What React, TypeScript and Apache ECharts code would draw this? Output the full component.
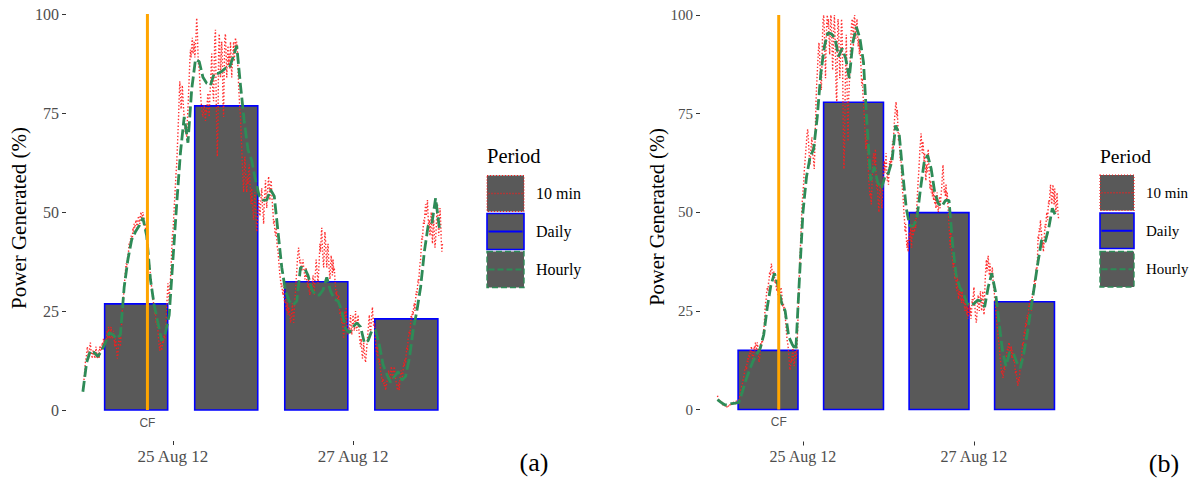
import React, { useEffect, useRef } from "react";
import * as echarts from "echarts";

// Time is measured in hours since 24 Aug 2012 00:00.
const tickHours = [24, 72];
const tickLabels = ["25 Aug 12", "27 Aug 12"];
const yTickStep = 25;

// Daily bars: centre time of each bar and its mean output (%).
const dailyHours = [14.2, 38.2, 62.2, 86.2];
const dailyA = [26.8, 76.8, 32.4, 23.0];
const dailyB = [15.0, 77.9, 49.9, 27.3];

// Time of the CF marker.
const cfHour = 17.2;
const cfLabel = "CF";

// Hourly output (%), one value per hour from 24 Aug 00:00.
const hourlyA = [
  4.6, 12, 15, 14.5, 13.5, 15, 17, 19.5, 19, 18,
  19, 31, 38, 43, 45, 46.5, 48.5, 44, 33, 26.5,
  22, 17.5, 19.5, 24, 38, 52, 65, 74, 67.5, 81,
  88.5, 88, 84, 82.5, 82, 85, 85, 85.5, 86.3, 86.3,
  89, 92, 82, 73, 65.7, 63, 58, 54, 53, 53,
  55.6, 54, 45, 36, 30, 27.5, 26.5, 27.5, 36, 36,
  34, 30.5, 29, 29, 30.3, 33.5, 30, 28, 27.5, 25,
  20.5, 19.5, 21, 22, 21, 17, 17.5, 20, 20.2, 16.5,
  11.5, 9, 7, 8.4, 9.7, 7.5, 8.5, 13, 20, 25,
  31, 40, 46.5, 47, 53.5, 46,
];
const hourlyB = [
  2.5, 1.8, 1.2, 1.1, 1.5, 1.6, 1.8, 4.5, 7.5, 10,
  12.3, 14, 15.5, 19, 26, 31.5, 34.5, 31.5, 27, 25,
  18.5, 16.5, 15.1, 33, 50, 59, 64, 66, 74, 85,
  92, 95.5, 95.2, 94, 89.5, 91.5, 89, 84, 93, 97,
  94, 88, 72, 58, 61.5, 57.5, 56, 59, 60, 63,
  72, 70, 60, 51, 46.5, 46.5, 48.5, 56, 62.5, 64.5,
  61, 55, 52.2, 51.5, 53, 53, 42, 34, 31, 29.5,
  27, 26.3, 26.8, 27.7, 27.5, 26, 31, 34.5, 30, 22.5,
  15, 11, 14.5, 14.5, 12, 10.5, 14.2, 19.5, 25.5, 31.5,
  37.5, 43, 42.5, 46, 51, 49,
];

// 10-minute output (%), six values per hour (one row per hour).
const tenMinA = [
  5, 6, 8, 10, 12, 13,
  14, 16, 15, 13, 14, 16,
  17, 15, 14, 13, 15, 14,
  15, 13, 14, 16, 14, 13,
  14, 15, 13, 16, 15, 16,
  15, 17, 16, 18, 17, 18,
  18, 17, 19, 20, 18, 21,
  20, 18, 19, 21, 19, 18,
  19, 20, 18, 16, 18, 17,
  15, 13, 14, 17, 19, 18,
  16, 19, 22, 25, 27, 29,
  31, 33, 35, 37, 36, 38,
  39, 40, 42, 41, 43, 44,
  44, 43, 46, 45, 47, 46,
  46, 48, 47, 46, 48, 49,
  48, 47, 49, 50, 48, 49,
  50, 49, 48, 47, 46, 45,
  44, 42, 40, 38, 37, 36,
  34, 32, 31, 29, 28, 27,
  26, 24, 25, 22, 23, 21,
  20, 18, 16, 15, 17, 16,
  15, 16, 18, 17, 19, 18,
  20, 22, 26, 29, 32, 30,
  27, 31, 33, 36, 40, 44,
  45, 48, 51, 54, 57, 60,
  62, 66, 70, 74, 79, 83,
  80, 76, 78, 82, 79, 76,
  74, 71, 70, 72, 69, 73,
  76, 80, 84, 88, 91, 89,
  92, 94, 90, 91, 93, 89,
  91, 95, 99, 96, 90, 87,
  86, 83, 80, 78, 76, 75,
  74, 76, 77, 75, 73, 76,
  75, 78, 80, 76, 74, 79,
  82, 86, 90, 84, 80, 78,
  88, 94, 96, 80, 70, 64,
  72, 90, 95, 92, 84, 88,
  93, 89, 78, 74, 86, 94,
  95, 90, 84, 88, 92, 87,
  90, 86, 93, 89, 84, 88,
  90, 93, 88, 91, 94, 92,
  93, 91, 86, 82, 79, 76,
  74, 70, 66, 62, 58, 55,
  60, 64, 61, 57, 55, 59,
  57, 60, 62, 58, 55, 52,
  56, 53, 50, 48, 52, 55,
  51, 48, 45, 47, 50, 53,
  52, 49, 51, 54, 56, 52,
  50, 47, 52, 55, 58, 54,
  51, 55, 57, 59, 56, 53,
  57, 58, 55, 52, 50, 47,
  48, 45, 44, 46, 43, 41,
  40, 38, 36, 34, 33, 31,
  32, 30, 29, 31, 28, 27,
  28, 26, 25, 27, 24, 26,
  25, 24, 22, 23, 25, 27,
  24, 22, 25, 28, 30, 33,
  35, 38, 40, 41, 39, 37,
  38, 36, 35, 37, 38, 36,
  35, 33, 34, 36, 33, 32,
  31, 33, 30, 29, 32, 31,
  30, 32, 34, 31, 29, 33,
  35, 38, 36, 34, 32, 35,
  38, 42, 40, 44, 46, 41,
  38, 36, 40, 45, 43, 39,
  36, 40, 42, 38, 35, 33,
  36, 39, 37, 34, 38, 35,
  36, 33, 31, 29, 30, 28,
  27, 29, 26, 24, 25, 23,
  22, 24, 20, 18, 21, 25,
  23, 26, 22, 20, 19, 21,
  20, 22, 24, 21, 19, 22,
  24, 22, 20, 23, 25, 21,
  20, 22, 24, 21, 19, 17,
  16, 18, 15, 13, 14, 17,
  15, 13, 12, 14, 16, 18,
  20, 22, 24, 21, 19, 22,
  24, 26, 23, 21, 22, 20,
  17, 15, 14, 16, 13, 12,
  13, 11, 10, 9, 8, 7,
  8, 7, 6, 7, 5, 6,
  7, 8, 9, 10, 8, 7,
  9, 11, 10, 8, 9, 10,
  11, 9, 8, 7, 6, 5,
  6, 7, 5, 8, 9, 10,
  9, 8, 10, 12, 11, 13,
  12, 14, 16, 15, 18, 19,
  20, 19, 22, 24, 23, 25,
  24, 26, 27, 25, 28, 30,
  29, 31, 33, 32, 35, 37,
  38, 41, 44, 43, 46, 48,
  47, 50, 52, 49, 51, 53,
  49, 46, 48, 44, 47, 50,
  45, 42, 46, 48, 44, 41,
  43, 46, 50, 52, 48, 44,
  47, 51, 48, 43, 40, 42,
];
const tenMinB = [
  3.5, 3, 2.5, 2, 2.5, 2,
  1.5, 2, 1.5, 1, 1.5, 1.2,
  1, 0.8, 1.2, 1, 0.6, 1,
  0.8, 1, 1.4, 1.2, 0.9, 1.3,
  1.5, 1.8, 1.2, 1.6, 2, 1.7,
  1.4, 1.9, 2.2, 1.8, 1.5, 2,
  2.5, 3, 3.8, 4.5, 5.5, 6,
  6.5, 7.5, 8, 9, 10, 10.5,
  11, 10, 12, 13, 12, 14,
  13, 15, 14, 16, 15, 13,
  12, 14, 16, 15, 17, 16,
  15, 17, 16, 14, 12, 13,
  15, 17, 16, 18, 17, 19,
  20, 22, 25, 27, 28, 30,
  31, 30, 32, 33, 35, 34,
  36, 37, 35, 34, 33, 35,
  34, 32, 33, 31, 30, 32,
  29, 30, 28, 27, 29, 31,
  30, 28, 26, 27, 25, 26,
  24, 22, 20, 18, 17, 16,
  14, 12, 10, 11, 13, 12,
  14, 16, 13, 11, 12, 15,
  14, 13, 16, 20, 25, 30,
  34, 38, 42, 46, 50, 53,
  55, 57, 60, 62, 64, 66,
  68, 70, 71, 69, 66, 63,
  62, 65, 67, 69, 66, 64,
  63, 61, 66, 72, 78, 82,
  85, 88, 91, 93, 90, 86,
  83, 81, 88, 95, 99, 100,
  96, 90, 84, 92, 98, 100,
  97, 99, 94, 90, 96, 100,
  98, 92, 86, 90, 97, 100,
  95, 88, 80, 78, 91, 99,
  97, 90, 84, 88, 94, 99,
  96, 84, 70, 61, 66, 79,
  88, 95, 86, 74, 68, 79,
  82, 86, 91, 95, 98, 99,
  96, 92, 99, 100, 97, 94,
  97, 99, 95, 92, 94, 90,
  93, 89, 86, 82, 84, 80,
  78, 75, 72, 69, 66, 70,
  68, 64, 61, 58, 56, 54,
  55, 52, 56, 60, 63, 65,
  64, 62, 66, 60, 56, 58,
  55, 52, 50, 54, 57, 55,
  53, 51, 55, 58, 61, 63,
  60, 62, 65, 61, 58, 60,
  57, 60, 63, 61, 64, 62,
  65, 68, 66, 70, 73, 75,
  77, 78, 74, 76, 71, 68,
  70, 66, 63, 65, 60, 57,
  55, 53, 50, 48, 45, 47,
  44, 41, 43, 40, 42, 45,
  43, 46, 44, 41, 47, 45,
  44, 47, 45, 48, 46, 50,
  52, 55, 58, 60, 63, 66,
  68, 70, 67, 65, 68, 66,
  63, 65, 61, 58, 62, 60,
  64, 66, 62, 59, 56, 58,
  55, 57, 54, 56, 53, 55,
  52, 54, 51, 53, 55, 52,
  50, 52, 54, 51, 53, 55,
  57, 60, 62, 58, 55, 56,
  54, 57, 53, 55, 52, 50,
  47, 44, 41, 45, 42, 40,
  38, 36, 39, 35, 33, 36,
  32, 30, 34, 31, 28, 30,
  29, 31, 28, 27, 30, 28,
  27, 29, 26, 25, 28, 26,
  24, 26, 23, 25, 27, 24,
  26, 23, 25, 28, 27, 29,
  31, 28, 25, 23, 22, 24,
  26, 29, 27, 25, 28, 30,
  27, 25, 28, 30, 26, 24,
  29, 33, 36, 38, 35, 37,
  39, 36, 34, 37, 35, 33,
  34, 36, 33, 31, 30, 28,
  27, 25, 23, 21, 20, 18,
  17, 15, 13, 12, 10, 9,
  10, 8, 9, 11, 10, 12,
  13, 14, 15, 16, 15, 17,
  16, 14, 15, 16, 13, 15,
  14, 12, 13, 11, 9, 10,
  8, 7, 6, 8, 7, 9,
  11, 13, 12, 15, 17, 16,
  18, 20, 19, 22, 21, 23,
  24, 22, 25, 27, 26, 28,
  27, 25, 28, 30, 29, 31,
  33, 31, 34, 36, 35, 38,
  44, 43, 46, 45, 48, 46,
  44, 41, 43, 40, 42, 45,
  47, 46, 49, 50, 48, 51,
  53, 52, 55, 57, 54, 52,
  54, 57, 55, 52, 56, 53,
  50, 52, 55, 51, 49, 48,
];

const legendTitle = "Period";
const legendLabels = ["10 min", "Daily", "Hourly"];
const yTitle = "Power Generated (%)";
const panelTags = ["(a)", "(b)"];

const SERIF = '"Liberation Serif", "Times New Roman", serif';
const SANS = '"Liberation Sans", Arial, sans-serif';
const BAR_SPAN_H = 16.8;

const COLORS = {
  bar: "#595959",
  daily: "#0000ff",
  hourly: "#2e8b57",
  tenMin: "#ff1a1a",
  cf: "#ffa500",
  tick: "#333333",
  tickText: "#4d4d4d",
};

const PANELS = [
  {
    grid: { left: 66, top: 14, width: 394, height: 396 },
    xMin: -4.5, xMax: 100.5, axisOffset: 31,
    xFont: 17, yFont: 16, titleFont: 21, titleX: 18.5, titleY: 218,
    legendX: 487, keyW: 37, keyH: 36, keyTops: [175.5, 213.5, 251.5],
    labelX: 536, labelFont: 16, periodFont: 20.5, periodY: 156,
    tagX: 534, tagY: 462, tagFont: 26,
    daily: dailyA, hourly: hourlyA, tenMin: tenMinA,
  },
  {
    grid: { left: 700, top: 15, width: 376.9, height: 394.5 },
    xMin: -4.9, xMax: 100.9, axisOffset: 32,
    xFont: 16, yFont: 15, titleFont: 20.5, titleX: 656.5, titleY: 217,
    legendX: 1100, keyW: 34, keyH: 35.5, keyTops: [175, 213, 251.5],
    labelX: 1146, labelFont: 15, periodFont: 19.5, periodY: 156,
    tagX: 1164, tagY: 463, tagFont: 26,
    daily: dailyB, hourly: hourlyB, tenMin: tenMinB,
  },
];

function buildOption() {
  const grid: any[] = [];
  const xAxis: any[] = [];
  const yAxis: any[] = [];
  const series: any[] = [];
  const graphic: any[] = [];

  PANELS.forEach((p, i) => {
    grid.push({ ...p.grid, containLabel: false });
    xAxis.push({
      type: "value",
      gridIndex: i,
      min: p.xMin,
      max: p.xMax,
      offset: p.axisOffset,
      axisLine: { show: false, onZero: false },
      splitLine: { show: false },
      axisTick: {
        show: true,
        length: 4,
        customValues: tickHours,
        lineStyle: { color: COLORS.tick, width: 1 },
      },
      axisLabel: {
        customValues: tickHours,
        formatter: (v: number) => {
          const k = tickHours.indexOf(v);
          return k >= 0 ? tickLabels[k] : "";
        },
        color: COLORS.tickText,
        fontFamily: SERIF,
        fontSize: p.xFont,
        margin: 7,
      },
    });
    yAxis.push({
      type: "value",
      gridIndex: i,
      min: 0,
      max: 100,
      interval: yTickStep,
      axisLine: { show: false, onZero: false },
      splitLine: { show: false },
      axisTick: { show: true, length: 4, lineStyle: { color: COLORS.tick, width: 1 } },
      axisLabel: {
        color: COLORS.tickText,
        fontFamily: SERIF,
        fontSize: p.yFont,
        margin: 7,
      },
    });

    // Daily bars spanning BAR_SPAN_H hours around each centre time.
    series.push({
      type: "custom",
      name: "Daily",
      xAxisIndex: i,
      yAxisIndex: i,
      silent: true,
      z: 1,
      data: dailyHours.map((h, k) => [h, p.daily[k]]),
      renderItem: (_params: any, api: any) => {
        const c = api.value(0);
        const v = api.value(1);
        const topLeft = api.coord([c - BAR_SPAN_H / 2, v]);
        const bottomRight = api.coord([c + BAR_SPAN_H / 2, 0]);
        return {
          type: "rect",
          shape: {
            x: topLeft[0],
            y: topLeft[1],
            width: bottomRight[0] - topLeft[0],
            height: bottomRight[1] - topLeft[1],
          },
          style: { fill: COLORS.bar, stroke: COLORS.daily, lineWidth: 1.6 },
        };
      },
    });

    series.push({
      type: "line",
      name: "10 min",
      xAxisIndex: i,
      yAxisIndex: i,
      silent: true,
      z: 2,
      symbol: "none",
      showSymbol: false,
      data: p.tenMin.map((v, k) => [k / 6, v]),
      lineStyle: { color: COLORS.tenMin, width: 1.4, type: [1.4, 2], opacity: 0.9 },
    });

    series.push({
      type: "line",
      name: "Hourly",
      xAxisIndex: i,
      yAxisIndex: i,
      silent: true,
      z: 3,
      symbol: "none",
      showSymbol: false,
      data: p.hourly.map((v, k) => [k, v]),
      lineStyle: { color: COLORS.hourly, width: 2.8, type: [11, 4], cap: "butt" },
    });

    series.push({
      type: "line",
      name: "CF",
      xAxisIndex: i,
      yAxisIndex: i,
      silent: true,
      z: 4,
      symbol: "none",
      showSymbol: false,
      data: [
        [cfHour, 0],
        [cfHour, 100],
      ],
      lineStyle: { color: COLORS.cf, width: 3 },
    });

    series.push({
      type: "scatter",
      xAxisIndex: i,
      yAxisIndex: i,
      silent: true,
      z: 5,
      symbolSize: 1,
      itemStyle: { color: "rgba(0,0,0,0)" },
      data: [[cfHour, 0]],
      label: {
        show: true,
        formatter: cfLabel,
        position: "bottom",
        distance: 6,
        fontFamily: SANS,
        fontSize: 12,
        color: "#222222",
      },
    });

    // Axis title
    graphic.push({
      type: "text",
      x: p.titleX,
      y: p.titleY,
      rotation: Math.PI / 2,
      silent: true,
      style: {
        text: yTitle,
        fontFamily: SERIF,
        fontSize: p.titleFont,
        fill: "#000000",
        align: "center",
        verticalAlign: "middle",
        textAlign: "center",
        textVerticalAlign: "middle",
      },
    });

    // Legend
    graphic.push({
      type: "text",
      x: p.legendX,
      y: p.periodY,
      silent: true,
      style: {
        text: legendTitle,
        fontFamily: SERIF,
        fontSize: p.periodFont,
        fill: "#000000",
        align: "left",
        verticalAlign: "middle",
        textAlign: "left",
        textVerticalAlign: "middle",
      },
    });
    const keyStyles = [
      { color: COLORS.tenMin, dash: [1, 2], width: 1.2, inner: 1.6 },
      { color: COLORS.daily, dash: null, width: 1.6, inner: 2 },
      { color: COLORS.hourly, dash: [6, 3], width: 1.4, inner: 2 },
    ];
    keyStyles.forEach((ks, k) => {
      const top = p.keyTops[k];
      const cy = top + p.keyH / 2;
      graphic.push({
        type: "rect",
        silent: true,
        shape: { x: p.legendX, y: top, width: p.keyW, height: p.keyH },
        style: {
          fill: COLORS.bar,
          stroke: ks.color,
          lineWidth: ks.width,
          lineDash: ks.dash || undefined,
        },
      });
      graphic.push({
        type: "line",
        silent: true,
        shape: { x1: p.legendX + 1.5, y1: cy, x2: p.legendX + p.keyW - 1.5, y2: cy },
        style: { stroke: ks.color, lineWidth: ks.inner, lineDash: ks.dash || undefined },
      });
      graphic.push({
        type: "text",
        x: p.labelX,
        y: cy,
        silent: true,
        style: {
          text: legendLabels[k],
          fontFamily: SERIF,
          fontSize: p.labelFont,
          fill: "#000000",
          align: "left",
          verticalAlign: "middle",
          textAlign: "left",
          textVerticalAlign: "middle",
        },
      });
    });

    // Panel tag
    graphic.push({
      type: "text",
      x: p.tagX,
      y: p.tagY,
      silent: true,
      style: {
        text: panelTags[i],
        fontFamily: SERIF,
        fontSize: p.tagFont,
        fill: "#000000",
        align: "center",
        verticalAlign: "middle",
        textAlign: "center",
        textVerticalAlign: "middle",
      },
    });
  });

  return {
    animation: false,
    backgroundColor: "#ffffff",
    grid,
    xAxis,
    yAxis,
    series,
    graphic,
  };
}

export default function App() {
  const ref = useRef<HTMLDivElement>(null);
  useEffect(() => {
    if (!ref.current) return;
    const chart = echarts.init(ref.current, null, { renderer: "svg" });
    chart.setOption(buildOption() as any);
    return () => {
      chart.dispose();
    };
  }, []);
  return (
    <div
      ref={ref}
      style={{ position: "absolute", left: 0, top: 0, width: 1195, height: 481, background: "#ffffff" }}
    />
  );
}
